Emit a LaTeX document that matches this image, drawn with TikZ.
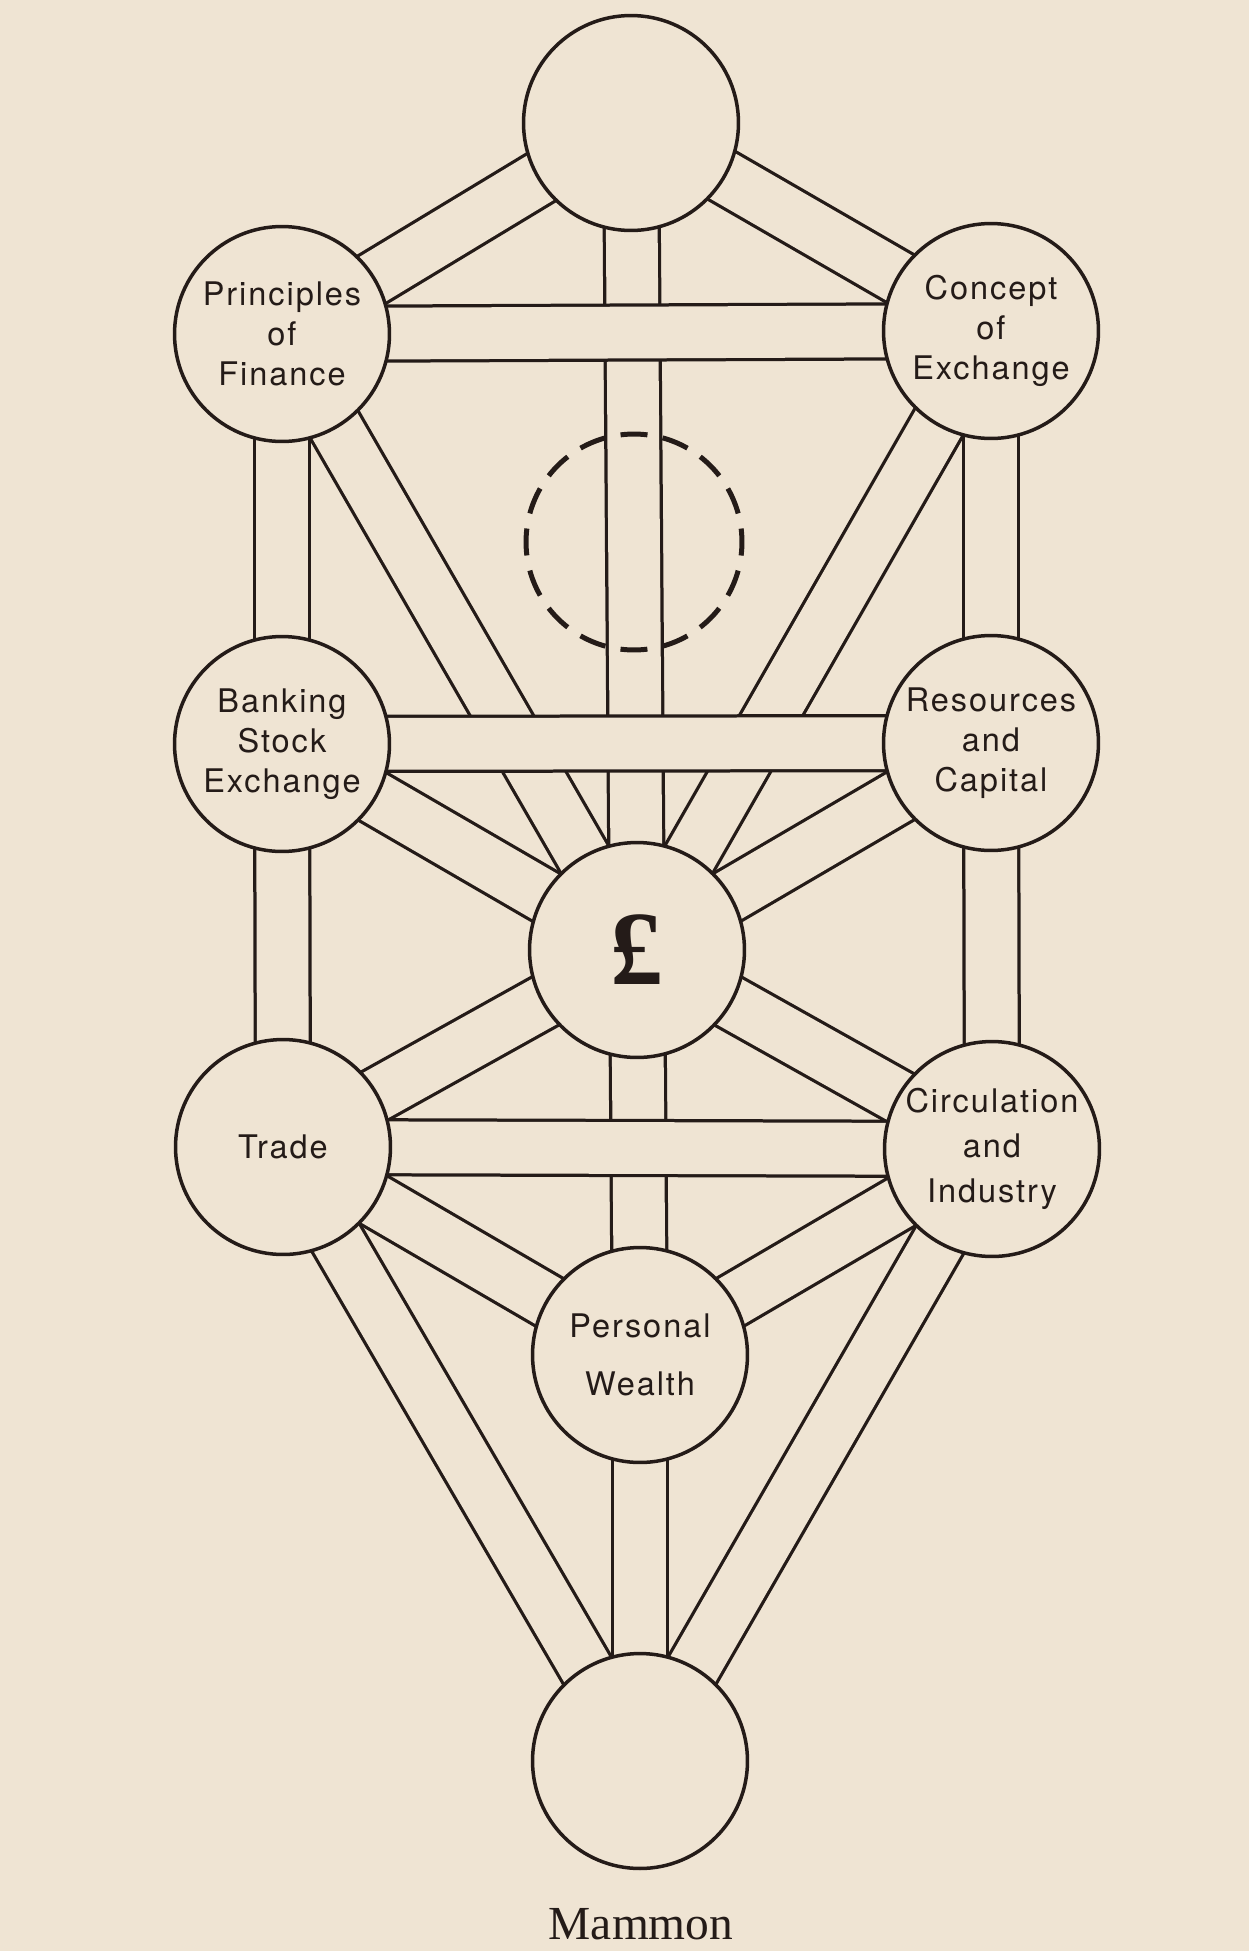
\documentclass[tikz,border=0pt]{standalone}
\usepackage{fontspec}
\setmainfont{Liberation Serif}
\setsansfont{TeX Gyre Heros}[LetterSpace=6.0]
\definecolor{paper}{RGB}{239,228,211}
\definecolor{ink}{RGB}{36,27,24}
\pgfdeclarelayer{chan}
\pgfsetlayers{chan,main}

\begin{document}
\begin{tikzpicture}[x=0.02cm, y=-0.02cm,
  main/.style = {draw=ink, circle, fill=paper, line width=0.07cm, minimum size=4.3cm, inner sep=0pt, align=center, text=ink, font=\sffamily\fontsize{18.5}{22.7}\selectfont},
  ghost/.style = {draw=ink, circle, line width=0.1cm, minimum size=4.32cm, inner sep=0pt, dash pattern=on 0.54cm off 0.3082cm, dash phase=0.27cm},
  chan/.style = {draw=ink, line width=0.065cm, double=paper, double distance=1.035cm}]
\useasboundingbox (0,0) rectangle (1249,1951);
\node[main] (K) at (631,123) {};
\node[main] (B) at (282,334) {Principles\\of\\Finance};
\node[main] (C) at (991,331) {Concept\\of\\Exchange};
\node[ghost] (D) at (634,542) {};
\node[main] (G) at (282,744) {Banking\\Stock\\Exchange};
\node[main] (H) at (991,743) {Resources\\and\\Capital};
\node[main, font=\bfseries\fontsize{60}{62}\selectfont] (T) at (637,950) {£};
\node[main] (O) at (283,1147) {Trade};
\node[main] (N) at (992,1149) {Circulation\\[0.1cm]and\\[0.1cm]Industry};
\node[main] (Y) at (640,1355) {Personal\\[0.36cm]Wealth};
\node[main] (M) at (640,1761) {};
\node[text=ink, font=\fontsize{27}{30}\selectfont] (mammon) at (641,1924) {Mammon};
\begin{pgfonlayer}{chan}
\fill[paper] (0,0) rectangle (1249,1951);
\draw[chan] (K.center) -- (B.center);
\draw[chan] (K.center) -- (C.center);
\draw[chan] (K.center) -- (T.center);
\draw[chan] (B.center) -- (G.center);
\draw[chan] (C.center) -- (H.center);
\draw[chan] (B.center) -- (T.center);
\draw[chan] (C.center) -- (T.center);
\draw[chan] (G.center) -- (T.center);
\draw[chan] (H.center) -- (T.center);
\draw[chan] (G.center) -- (O.center);
\draw[chan] (H.center) -- (N.center);
\draw[chan] (O.center) -- (T.center);
\draw[chan] (N.center) -- (T.center);
\draw[chan] (T.center) -- (Y.center);
\draw[chan] (O.center) -- (Y.center);
\draw[chan] (N.center) -- (Y.center);
\draw[chan] (O.center) -- (M.center);
\draw[chan] (N.center) -- (M.center);
\draw[chan] (Y.center) -- (M.center);
% the three cross paths lie on top
\draw[chan] (B.center) -- (C.center);
\draw[chan] (G.center) -- (H.center);
\draw[chan] (O.center) -- (N.center);
\end{pgfonlayer}
\end{tikzpicture}
\end{document}
